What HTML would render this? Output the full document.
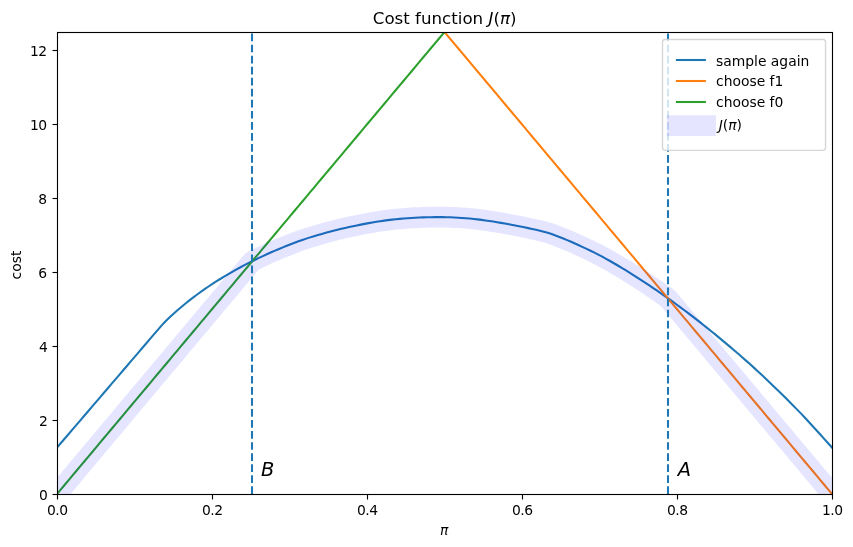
<!DOCTYPE html>
<html lang="en">
<head>
<meta charset="utf-8">
<title>Cost function J(π)</title>
<style>
html,body{margin:0;padding:0;background:#fff;}
body{width:853px;height:547px;overflow:hidden;}
svg{display:block;}
text{font-family:'DejaVu Sans', 'Liberation Sans', sans-serif;fill:#000;}
.t10{font-size:13.889px;}
.t12{font-size:16.667px;}
.t14{font-size:19.444px;}
.it{font-style:oblique;}
.tl{letter-spacing:-0.5px;}
.ln{fill:none;stroke-width:2.083;stroke-linecap:square;stroke-linejoin:round;}
.tk{stroke:#000;stroke-width:1.111;fill:none;}
</style>
</head>
<body>
<svg width="853" height="547" viewBox="0 0 853 547">
<rect x="0" y="0" width="853" height="547" fill="#ffffff"/>
<defs><clipPath id="ax"><rect x="57" y="32" width="775.5" height="462.5"/></clipPath></defs>

<g class="tk">
<path d="M57.5 494.5V499.5"/>
<path d="M212.5 494.5V499.5"/>
<path d="M367.5 494.5V499.5"/>
<path d="M522.5 494.5V499.5"/>
<path d="M677.5 494.5V499.5"/>
<path d="M832.5 494.5V499.5"/>
<path d="M57.5 494.5H52.5"/>
<path d="M57.5 420.5H52.5"/>
<path d="M57.5 346.5H52.5"/>
<path d="M57.5 272.5H52.5"/>
<path d="M57.5 198.5H52.5"/>
<path d="M57.5 124.5H52.5"/>
<path d="M57.5 50.5H52.5"/>
</g>
<g class="t10 tl" text-anchor="middle">
<text x="57.25" y="514.78">0.0</text>
<text x="212.25" y="514.78">0.2</text>
<text x="367.25" y="514.78">0.4</text>
<text x="522.25" y="514.78">0.6</text>
<text x="677.25" y="514.78">0.8</text>
<text x="832.25" y="514.78">1.0</text>
</g>
<g class="t10 tl" text-anchor="end">
<text x="47.40" y="500.10">0</text>
<text x="47.40" y="426.10">2</text>
<text x="47.40" y="352.10">4</text>
<text x="46.60" y="278.10">6</text>
<text x="46.60" y="204.10">8</text>
<text x="46.60" y="130.10">10</text>
<text x="46.60" y="56.10">12</text>
</g>
<text class="t10 it" x="444.3" y="535" text-anchor="middle">π</text>
<text class="t10" transform="translate(20.8 265.0) rotate(-90)" text-anchor="middle">cost</text>
<g clip-path="url(#ax)">
<path class="ln" stroke="#1f77b4" d="M57.00 447.60 L60.89 443.05 L64.79 438.50 L68.68 433.95 L72.58 429.41 L76.47 424.86 L80.37 420.31 L84.26 415.76 L88.16 411.21 L92.05 406.66 L95.94 402.11 L99.84 397.56 L103.73 393.02 L107.63 388.47 L111.52 383.92 L115.42 379.37 L119.31 374.82 L123.21 370.27 L127.10 365.72 L130.99 361.17 L134.89 356.63 L138.78 352.08 L142.68 347.53 L146.57 342.98 L150.47 338.43 L154.36 333.88 L158.26 329.34 L162.15 324.88 L166.05 320.71 L169.94 316.97 L173.83 313.41 L177.73 309.98 L181.62 306.67 L185.52 303.47 L189.41 300.37 L193.31 297.37 L197.20 294.46 L201.10 291.65 L204.99 288.91 L208.88 286.26 L212.78 283.69 L216.67 281.19 L220.57 278.75 L224.46 276.39 L228.36 274.08 L232.25 271.84 L236.15 269.66 L240.04 267.53 L243.93 265.45 L247.83 263.43 L251.72 261.46 L255.62 259.54 L259.51 257.66 L263.41 255.83 L267.30 254.05 L271.20 252.31 L275.09 250.61 L278.98 248.96 L282.88 247.35 L286.77 245.78 L290.67 244.25 L294.56 242.76 L298.46 241.32 L302.35 239.94 L306.25 238.63 L310.14 237.37 L314.04 236.17 L317.93 235.01 L321.82 233.89 L325.72 232.80 L329.61 231.74 L333.51 230.73 L337.40 229.76 L341.30 228.83 L345.19 227.94 L349.09 227.07 L352.98 226.24 L356.87 225.42 L360.77 224.63 L364.66 223.87 L368.56 223.14 L372.45 222.44 L376.35 221.79 L380.24 221.18 L384.14 220.61 L388.03 220.10 L391.92 219.63 L395.82 219.21 L399.71 218.84 L403.61 218.51 L407.50 218.22 L411.40 217.96 L415.29 217.75 L419.19 217.57 L423.08 217.41 L426.97 217.28 L430.87 217.18 L434.76 217.11 L438.66 217.09 L442.55 217.12 L446.45 217.20 L450.34 217.32 L454.24 217.48 L458.13 217.68 L462.03 217.92 L465.92 218.20 L469.81 218.54 L473.71 218.94 L477.60 219.39 L481.50 219.89 L485.39 220.42 L489.29 220.99 L493.18 221.59 L497.08 222.21 L500.97 222.87 L504.86 223.56 L508.76 224.27 L512.65 225.00 L516.55 225.75 L520.44 226.53 L524.34 227.32 L528.23 228.14 L532.13 228.98 L536.02 229.84 L539.91 230.72 L543.81 231.65 L547.70 232.70 L551.60 234.00 L555.49 235.44 L559.39 236.93 L563.28 238.47 L567.18 240.09 L571.07 241.78 L574.96 243.52 L578.86 245.30 L582.75 247.11 L586.65 248.93 L590.54 250.76 L594.44 252.64 L598.33 254.61 L602.23 256.67 L606.12 258.79 L610.02 260.98 L613.91 263.23 L617.80 265.52 L621.70 267.85 L625.59 270.21 L629.49 272.60 L633.38 275.04 L637.28 277.53 L641.17 280.05 L645.07 282.61 L648.96 285.20 L652.85 287.82 L656.75 290.47 L660.64 293.15 L664.54 295.86 L668.43 298.62 L672.33 301.40 L676.22 304.23 L680.12 307.09 L684.01 309.98 L687.90 312.90 L691.80 315.85 L695.69 318.85 L699.59 321.89 L703.48 324.96 L707.38 328.08 L711.27 331.23 L715.17 334.42 L719.06 337.65 L722.95 340.89 L726.85 344.14 L730.74 347.42 L734.64 350.73 L738.53 354.07 L742.43 357.44 L746.32 360.86 L750.22 364.33 L754.11 367.86 L758.01 371.44 L761.90 375.06 L765.79 378.73 L769.69 382.43 L773.58 386.17 L777.48 389.94 L781.37 393.75 L785.27 397.60 L789.16 401.48 L793.06 405.40 L796.95 409.37 L800.84 413.40 L804.74 417.52 L808.63 421.71 L812.53 425.95 L816.42 430.21 L820.32 434.53 L824.21 438.90 L828.11 443.26 L832.00 447.57"/>
<path class="ln" stroke="#ff7f0e" d="M57.00 -430.00 L60.89 -425.36 L64.79 -420.71 L68.68 -416.07 L72.58 -411.43 L76.47 -406.78 L80.37 -402.14 L84.26 -397.50 L88.16 -392.85 L92.05 -388.21 L95.94 -383.57 L99.84 -378.92 L103.73 -374.28 L107.63 -369.64 L111.52 -364.99 L115.42 -360.35 L119.31 -355.71 L123.21 -351.07 L127.10 -346.42 L130.99 -341.78 L134.89 -337.14 L138.78 -332.49 L142.68 -327.85 L146.57 -323.21 L150.47 -318.56 L154.36 -313.92 L158.26 -309.28 L162.15 -304.63 L166.05 -299.99 L169.94 -295.35 L173.83 -290.70 L177.73 -286.06 L181.62 -281.42 L185.52 -276.77 L189.41 -272.13 L193.31 -267.49 L197.20 -262.84 L201.10 -258.20 L204.99 -253.56 L208.88 -248.91 L212.78 -244.27 L216.67 -239.63 L220.57 -234.98 L224.46 -230.34 L228.36 -225.70 L232.25 -221.06 L236.15 -216.41 L240.04 -211.77 L243.93 -207.13 L247.83 -202.48 L251.72 -197.84 L255.62 -193.20 L259.51 -188.55 L263.41 -183.91 L267.30 -179.27 L271.20 -174.62 L275.09 -169.98 L278.98 -165.34 L282.88 -160.69 L286.77 -156.05 L290.67 -151.41 L294.56 -146.76 L298.46 -142.12 L302.35 -137.48 L306.25 -132.83 L310.14 -128.19 L314.04 -123.55 L317.93 -118.90 L321.82 -114.26 L325.72 -109.62 L329.61 -104.97 L333.51 -100.33 L337.40 -95.69 L341.30 -91.05 L345.19 -86.40 L349.09 -81.76 L352.98 -77.12 L356.87 -72.47 L360.77 -67.83 L364.66 -63.19 L368.56 -58.54 L372.45 -53.90 L376.35 -49.26 L380.24 -44.61 L384.14 -39.97 L388.03 -35.33 L391.92 -30.68 L395.82 -26.04 L399.71 -21.40 L403.61 -16.75 L407.50 -12.11 L411.40 -7.47 L415.29 -2.82 L419.19 1.82 L423.08 6.46 L426.97 11.11 L430.87 15.75 L434.76 20.39 L438.66 25.04 L442.55 29.68 L446.45 34.32 L450.34 38.96 L454.24 43.61 L458.13 48.25 L462.03 52.89 L465.92 57.54 L469.81 62.18 L473.71 66.82 L477.60 71.47 L481.50 76.11 L485.39 80.75 L489.29 85.40 L493.18 90.04 L497.08 94.68 L500.97 99.33 L504.86 103.97 L508.76 108.61 L512.65 113.26 L516.55 117.90 L520.44 122.54 L524.34 127.19 L528.23 131.83 L532.13 136.47 L536.02 141.12 L539.91 145.76 L543.81 150.40 L547.70 155.05 L551.60 159.69 L555.49 164.33 L559.39 168.97 L563.28 173.62 L567.18 178.26 L571.07 182.90 L574.96 187.55 L578.86 192.19 L582.75 196.83 L586.65 201.48 L590.54 206.12 L594.44 210.76 L598.33 215.41 L602.23 220.05 L606.12 224.69 L610.02 229.34 L613.91 233.98 L617.80 238.62 L621.70 243.27 L625.59 247.91 L629.49 252.55 L633.38 257.20 L637.28 261.84 L641.17 266.48 L645.07 271.13 L648.96 275.77 L652.85 280.41 L656.75 285.06 L660.64 289.70 L664.54 294.34 L668.43 298.98 L672.33 303.63 L676.22 308.27 L680.12 312.91 L684.01 317.56 L687.90 322.20 L691.80 326.84 L695.69 331.49 L699.59 336.13 L703.48 340.77 L707.38 345.42 L711.27 350.06 L715.17 354.70 L719.06 359.35 L722.95 363.99 L726.85 368.63 L730.74 373.28 L734.64 377.92 L738.53 382.56 L742.43 387.21 L746.32 391.85 L750.22 396.49 L754.11 401.14 L758.01 405.78 L761.90 410.42 L765.79 415.07 L769.69 419.71 L773.58 424.35 L777.48 428.99 L781.37 433.64 L785.27 438.28 L789.16 442.92 L793.06 447.57 L796.95 452.21 L800.84 456.85 L804.74 461.50 L808.63 466.14 L812.53 470.78 L816.42 475.43 L820.32 480.07 L824.21 484.71 L828.11 489.36 L832.00 494.00"/>
<path class="ln" stroke="#2ca02c" d="M57.00 494.00 L60.89 489.36 L64.79 484.71 L68.68 480.07 L72.58 475.43 L76.47 470.78 L80.37 466.14 L84.26 461.50 L88.16 456.85 L92.05 452.21 L95.94 447.57 L99.84 442.92 L103.73 438.28 L107.63 433.64 L111.52 428.99 L115.42 424.35 L119.31 419.71 L123.21 415.07 L127.10 410.42 L130.99 405.78 L134.89 401.14 L138.78 396.49 L142.68 391.85 L146.57 387.21 L150.47 382.56 L154.36 377.92 L158.26 373.28 L162.15 368.63 L166.05 363.99 L169.94 359.35 L173.83 354.70 L177.73 350.06 L181.62 345.42 L185.52 340.77 L189.41 336.13 L193.31 331.49 L197.20 326.84 L201.10 322.20 L204.99 317.56 L208.88 312.91 L212.78 308.27 L216.67 303.63 L220.57 298.98 L224.46 294.34 L228.36 289.70 L232.25 285.06 L236.15 280.41 L240.04 275.77 L243.93 271.13 L247.83 266.48 L251.72 261.84 L255.62 257.20 L259.51 252.55 L263.41 247.91 L267.30 243.27 L271.20 238.62 L275.09 233.98 L278.98 229.34 L282.88 224.69 L286.77 220.05 L290.67 215.41 L294.56 210.76 L298.46 206.12 L302.35 201.48 L306.25 196.83 L310.14 192.19 L314.04 187.55 L317.93 182.90 L321.82 178.26 L325.72 173.62 L329.61 168.97 L333.51 164.33 L337.40 159.69 L341.30 155.05 L345.19 150.40 L349.09 145.76 L352.98 141.12 L356.87 136.47 L360.77 131.83 L364.66 127.19 L368.56 122.54 L372.45 117.90 L376.35 113.26 L380.24 108.61 L384.14 103.97 L388.03 99.33 L391.92 94.68 L395.82 90.04 L399.71 85.40 L403.61 80.75 L407.50 76.11 L411.40 71.47 L415.29 66.82 L419.19 62.18 L423.08 57.54 L426.97 52.89 L430.87 48.25 L434.76 43.61 L438.66 38.96 L442.55 34.32 L446.45 29.68 L450.34 25.04 L454.24 20.39 L458.13 15.75 L462.03 11.11 L465.92 6.46 L469.81 1.82 L473.71 -2.82 L477.60 -7.47 L481.50 -12.11 L485.39 -16.75 L489.29 -21.40 L493.18 -26.04 L497.08 -30.68 L500.97 -35.33 L504.86 -39.97 L508.76 -44.61 L512.65 -49.26 L516.55 -53.90 L520.44 -58.54 L524.34 -63.19 L528.23 -67.83 L532.13 -72.47 L536.02 -77.12 L539.91 -81.76 L543.81 -86.40 L547.70 -91.05 L551.60 -95.69 L555.49 -100.33 L559.39 -104.97 L563.28 -109.62 L567.18 -114.26 L571.07 -118.90 L574.96 -123.55 L578.86 -128.19 L582.75 -132.83 L586.65 -137.48 L590.54 -142.12 L594.44 -146.76 L598.33 -151.41 L602.23 -156.05 L606.12 -160.69 L610.02 -165.34 L613.91 -169.98 L617.80 -174.62 L621.70 -179.27 L625.59 -183.91 L629.49 -188.55 L633.38 -193.20 L637.28 -197.84 L641.17 -202.48 L645.07 -207.13 L648.96 -211.77 L652.85 -216.41 L656.75 -221.06 L660.64 -225.70 L664.54 -230.34 L668.43 -234.98 L672.33 -239.63 L676.22 -244.27 L680.12 -248.91 L684.01 -253.56 L687.90 -258.20 L691.80 -262.84 L695.69 -267.49 L699.59 -272.13 L703.48 -276.77 L707.38 -281.42 L711.27 -286.06 L715.17 -290.70 L719.06 -295.35 L722.95 -299.99 L726.85 -304.63 L730.74 -309.28 L734.64 -313.92 L738.53 -318.56 L742.43 -323.21 L746.32 -327.85 L750.22 -332.49 L754.11 -337.14 L758.01 -341.78 L761.90 -346.42 L765.79 -351.07 L769.69 -355.71 L773.58 -360.35 L777.48 -364.99 L781.37 -369.64 L785.27 -374.28 L789.16 -378.92 L793.06 -383.57 L796.95 -388.21 L800.84 -392.85 L804.74 -397.50 L808.63 -402.14 L812.53 -406.78 L816.42 -411.43 L820.32 -416.07 L824.21 -420.71 L828.11 -425.36 L832.00 -430.00"/>
<path fill="none" stroke="#0000ff" stroke-opacity="0.1" stroke-width="20.833" stroke-linecap="square" stroke-linejoin="round" d="M57.00 494.00 L60.89 489.36 L64.79 484.71 L68.68 480.07 L72.58 475.43 L76.47 470.78 L80.37 466.14 L84.26 461.50 L88.16 456.85 L92.05 452.21 L95.94 447.57 L99.84 442.92 L103.73 438.28 L107.63 433.64 L111.52 428.99 L115.42 424.35 L119.31 419.71 L123.21 415.07 L127.10 410.42 L130.99 405.78 L134.89 401.14 L138.78 396.49 L142.68 391.85 L146.57 387.21 L150.47 382.56 L154.36 377.92 L158.26 373.28 L162.15 368.63 L166.05 363.99 L169.94 359.35 L173.83 354.70 L177.73 350.06 L181.62 345.42 L185.52 340.77 L189.41 336.13 L193.31 331.49 L197.20 326.84 L201.10 322.20 L204.99 317.56 L208.88 312.91 L212.78 308.27 L216.67 303.63 L220.57 298.98 L224.46 294.34 L228.36 289.70 L232.25 285.06 L236.15 280.41 L240.04 275.77 L243.93 271.13 L247.83 266.48 L251.72 261.84 L255.62 259.54 L259.51 257.66 L263.41 255.83 L267.30 254.05 L271.20 252.31 L275.09 250.61 L278.98 248.96 L282.88 247.35 L286.77 245.78 L290.67 244.25 L294.56 242.76 L298.46 241.32 L302.35 239.94 L306.25 238.63 L310.14 237.37 L314.04 236.17 L317.93 235.01 L321.82 233.89 L325.72 232.80 L329.61 231.74 L333.51 230.73 L337.40 229.76 L341.30 228.83 L345.19 227.94 L349.09 227.07 L352.98 226.24 L356.87 225.42 L360.77 224.63 L364.66 223.87 L368.56 223.14 L372.45 222.44 L376.35 221.79 L380.24 221.18 L384.14 220.61 L388.03 220.10 L391.92 219.63 L395.82 219.21 L399.71 218.84 L403.61 218.51 L407.50 218.22 L411.40 217.96 L415.29 217.75 L419.19 217.57 L423.08 217.41 L426.97 217.28 L430.87 217.18 L434.76 217.11 L438.66 217.09 L442.55 217.12 L446.45 217.20 L450.34 217.32 L454.24 217.48 L458.13 217.68 L462.03 217.92 L465.92 218.20 L469.81 218.54 L473.71 218.94 L477.60 219.39 L481.50 219.89 L485.39 220.42 L489.29 220.99 L493.18 221.59 L497.08 222.21 L500.97 222.87 L504.86 223.56 L508.76 224.27 L512.65 225.00 L516.55 225.75 L520.44 226.53 L524.34 227.32 L528.23 228.14 L532.13 228.98 L536.02 229.84 L539.91 230.72 L543.81 231.65 L547.70 232.70 L551.60 234.00 L555.49 235.44 L559.39 236.93 L563.28 238.47 L567.18 240.09 L571.07 241.78 L574.96 243.52 L578.86 245.30 L582.75 247.11 L586.65 248.93 L590.54 250.76 L594.44 252.64 L598.33 254.61 L602.23 256.67 L606.12 258.79 L610.02 260.98 L613.91 263.23 L617.80 265.52 L621.70 267.85 L625.59 270.21 L629.49 272.60 L633.38 275.04 L637.28 277.53 L641.17 280.05 L645.07 282.61 L648.96 285.20 L652.85 287.82 L656.75 290.47 L660.64 293.15 L664.54 295.86 L668.43 298.98 L672.33 303.63 L676.22 308.27 L680.12 312.91 L684.01 317.56 L687.90 322.20 L691.80 326.84 L695.69 331.49 L699.59 336.13 L703.48 340.77 L707.38 345.42 L711.27 350.06 L715.17 354.70 L719.06 359.35 L722.95 363.99 L726.85 368.63 L730.74 373.28 L734.64 377.92 L738.53 382.56 L742.43 387.21 L746.32 391.85 L750.22 396.49 L754.11 401.14 L758.01 405.78 L761.90 410.42 L765.79 415.07 L769.69 419.71 L773.58 424.35 L777.48 428.99 L781.37 433.64 L785.27 438.28 L789.16 442.92 L793.06 447.57 L796.95 452.21 L800.84 456.85 L804.74 461.50 L808.63 466.14 L812.53 470.78 L816.42 475.43 L820.32 480.07 L824.21 484.71 L828.11 489.36 L832.00 494.00"/>
<path fill="none" stroke="#1f77b4" stroke-width="2.083" stroke-dasharray="7.708 3.333" d="M252 494V32"/>
<path fill="none" stroke="#1f77b4" stroke-width="2.083" stroke-dasharray="7.708 3.333" d="M668 494V32"/>
</g>
<rect x="57.5" y="32.5" width="775" height="462" fill="none" stroke="#000" stroke-width="1.111"/>
<text class="t14 it" x="261.0" y="476.1">B</text>
<text class="t14 it" x="677.8" y="476.0">A</text>
<text class="t12" x="444.6" y="23.9" text-anchor="middle">Cost function <tspan class="it">J</tspan>(<tspan class="it">π</tspan>)</text>
<rect x="662.49" y="39.44" width="163.07" height="110.96" rx="2.78" ry="2.78" fill="#fff" fill-opacity="0.8" stroke="#cccccc" stroke-opacity="0.8" stroke-width="1.389"/>
<path class="ln" stroke="#1f77b4" d="M676.9 60.0H704.85"/>
<text class="t10" x="716.0" y="66.0">sample again</text>
<path class="ln" stroke="#ff7f0e" d="M676.9 81.0H704.85"/>
<text class="t10" x="716.0" y="86.1">choose f1</text>
<path class="ln" stroke="#2ca02c" d="M676.9 102.0H704.85"/>
<text class="t10" x="716.0" y="107.1">choose f0</text>
<path fill="none" stroke="#0000ff" stroke-opacity="0.1" stroke-width="20.833" stroke-linecap="square" d="M677.3 125.7H705.5500000000001"/>
<text class="t10" x="718.7" y="130.00"><tspan class="it">J</tspan>(<tspan class="it">π</tspan>)</text>
</svg>
</body>
</html>
